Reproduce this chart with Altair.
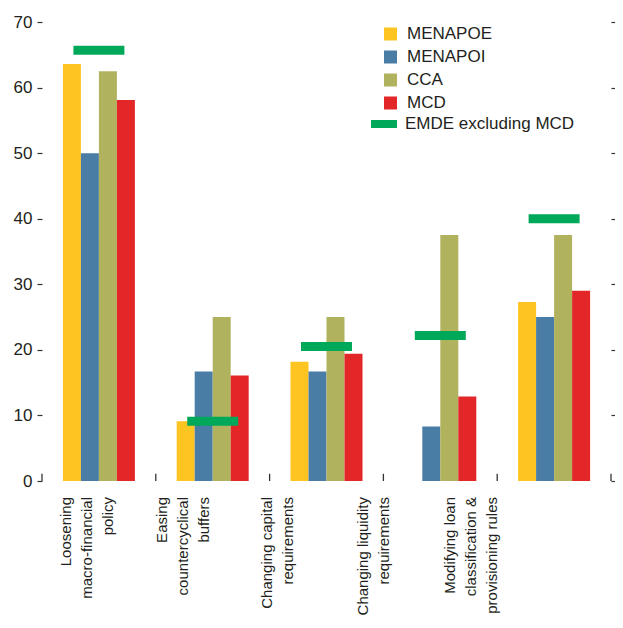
import altair as alt
import pandas as pd

categories = [
    "Loosening|macro-financial|policy",
    "Easing|countercyclical|buffers",
    "Changing capital|requirements",
    "Changing liquidity|requirements",
    "Modifying loan|classification &|provisioning rules",
]
bar_series = ["MENAPOE", "MENAPOI", "CCA", "MCD"]
line_series = "EMDE excluding MCD"
menapoe = [63.6, 9.1, 18.2, 0.0, 27.3]
menapoi = [50.0, 16.7, 16.7, 8.3, 25.0]
cca = [62.5, 25.0, 25.0, 37.5, 37.5]
mcd = [58.1, 16.1, 19.4, 12.9, 29.0]
emde = [65.7, 9.1, 20.5, 22.2, 40.0]
y_ticks = [0, 10, 20, 30, 40, 50, 60, 70]

bar_colors = ["#FEC421", "#4A7DA6", "#B1B25E", "#E32628"]
line_color = "#00A859"
FONT = "Liberation Sans"
AX = "#333333"
TXT = "#231F20"

rows = []
for s, vals in zip(bar_series, [menapoe, menapoi, cca, mcd]):
    for c, v in zip(categories, vals):
        if v > 0:
            rows.append({"category": c, "series": s, "value": v})
bars_df = pd.DataFrame(rows)
emde_df = pd.DataFrame({"category": categories, "series": line_series, "value": emde})
cat_df = pd.DataFrame({"category": categories})

# horizontal shift of each category's label block (label styling)
label_shift = [-33, -51, -60, -77, -104]
shift_expr = " : ".join(
    f"datum.category == '{c}' ? {o}" for c, o in zip(categories, label_shift)
) + " : 0"

xscale = alt.Scale(domain=categories, paddingInner=0, paddingOuter=0)
yscale = alt.Scale(domain=[0, 70])

legend_common = dict(
    title=None, orient="none", padding=0, labelOffset=8, labelLimit=300,
    labelFont=FONT, labelFontSize=17, labelColor=TXT, symbolStrokeWidth=0,
)

x_axis = alt.Axis(
    title=None, labels=False, ticks=False,
    domainColor=AX, domainWidth=1.3, zindex=1,
)

bars = alt.Chart(bars_df).mark_bar().encode(
    x=alt.X("category:N", scale=xscale, axis=x_axis, sort=categories),
    xOffset=alt.XOffset("series:N", scale=alt.Scale(domain=bar_series, paddingInner=0, paddingOuter=0, range=[20.9, 92.9])),
    y=alt.Y("value:Q", scale=yscale, axis=alt.Axis(
        title=None, values=y_ticks, orient="left", domain=False, grid=False,
        tickSize=5, tickColor=AX, tickWidth=1.2, labelPadding=5,
        labelFont=FONT, labelFontSize=17, labelColor=TXT)),
    color=alt.Color("series:N", scale=alt.Scale(domain=bar_series, range=bar_colors),
                    legend=alt.Legend(legendX=340, legendY=3.5, symbolType="square",
                                      symbolSize=169, rowPadding=5, **legend_common)),
)

ticks = alt.Chart(emde_df).mark_tick(thickness=9, size=51, opacity=1, color=line_color).encode(
    x=alt.X("category:N", scale=xscale, axis=None, sort=categories),
    y=alt.Y("value:Q", scale=yscale, axis=alt.Axis(
        title=None, values=y_ticks, orient="right", domain=False, grid=False,
        labels=False, tickSize=4, tickColor=AX, tickWidth=1.2)),
)

sep_start = alt.Chart(cat_df).mark_rule(color=AX, strokeWidth=1.3).encode(
    x=alt.X("category:N", scale=xscale, axis=None, sort=categories, bandPosition=0),
    y=alt.YDatum(0, axis=None),
    y2=alt.Y2Datum(1.1),
)
sep_end = alt.Chart(cat_df).transform_filter(
    alt.datum.category == categories[-1]
).mark_rule(color=AX, strokeWidth=1.3).encode(
    x=alt.X("category:N", scale=xscale, axis=None, sort=categories, bandPosition=1),
    y=alt.YDatum(0, axis=None),
    y2=alt.Y2Datum(1.1),
)

labels = alt.Chart(cat_df).mark_text(
    angle=270, align="right", baseline="middle", lineBreak="|", lineHeight=21,
    font=FONT, fontSize=15, color=TXT, dx=-16, dy={"expr": shift_expr},
).encode(
    x=alt.X("category:N", scale=xscale, axis=None, sort=categories),
    y=alt.YDatum(0, axis=None),
    text="category:N",
)

legend_layer = alt.Chart(emde_df).transform_filter("false").mark_point(
    filled=True, opacity=1
).encode(
    fill=alt.Fill("series:N", scale=alt.Scale(domain=[line_series], range=[line_color]),
                  legend=alt.Legend(legendX=329, legendY=89, symbolType="M-1,-0.31H1V0.31H-1Z",
                                    symbolSize=676, **legend_common)),
)

chart = alt.layer(bars, ticks, sep_start, sep_end, labels, legend_layer).properties(
    width=569, height=459,
    autosize=alt.AutoSizeParams(type="none"),
    padding={"left": 34, "top": 14, "right": 4, "bottom": 136},
).configure(background="white").configure_view(stroke=None)

chart.save("out.html", embed_options={"renderer": "svg", "actions": False})
